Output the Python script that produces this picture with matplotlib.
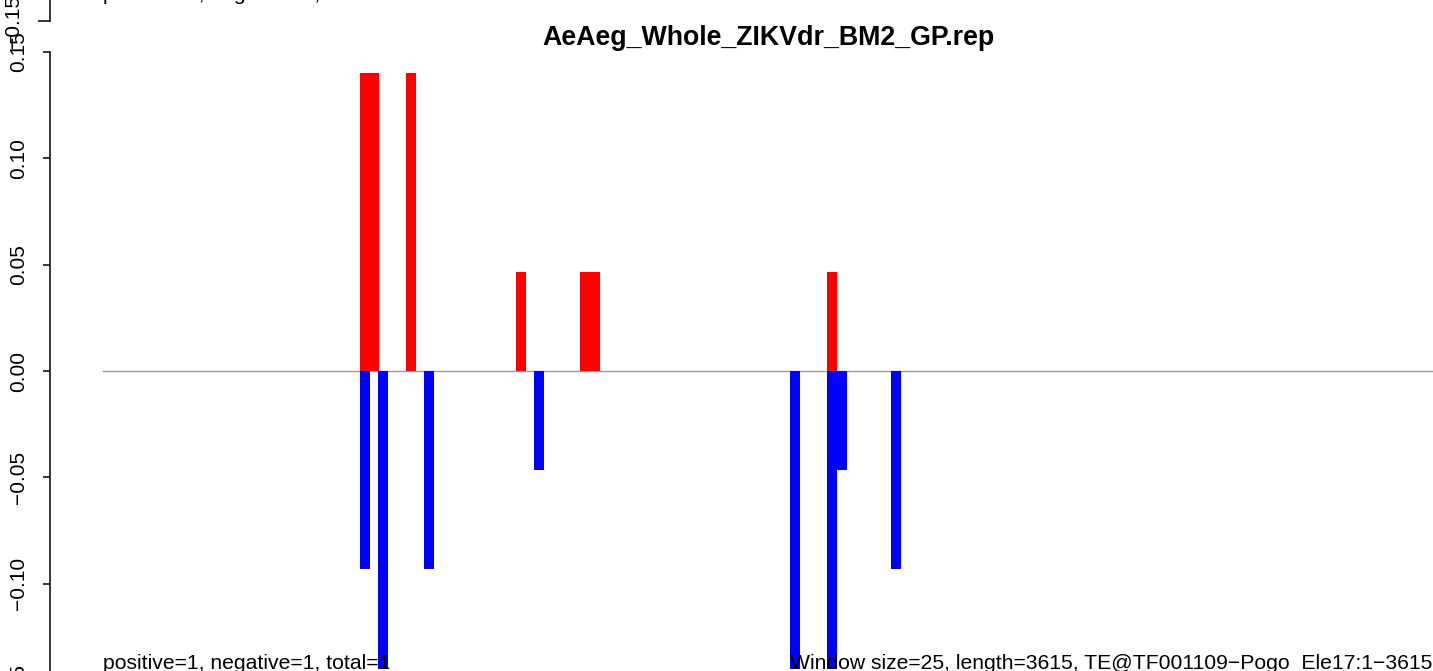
import matplotlib.pyplot as plt

plt.rcParams["font.family"] = ["Liberation Sans", "DejaVu Sans"]

# window positions (bp) and normalised read counts
pos_x = [698, 723, 823, 1122, 1296, 1324, 1968]
pos_y = [0.14, 0.14, 0.14, 0.0467, 0.0467, 0.0467, 0.0467]
neg_x = [698, 747, 872, 1171, 1867, 1968, 1995, 2142]
neg_y = [-0.0933, -0.14, -0.0933, -0.0467, -0.14, -0.14, -0.0467, -0.0933]

te_length = 3615
title = "AeAeg_Whole_ZIKVdr_BM2_GP.rep"
count_text = "positive=1, negative=1, total=1"
info_text = "Window size=25, length=3615, TE@TF001109\u2212Pogo_Ele17:1\u22123615"
yticks = [-0.15, -0.10, -0.05, 0.00, 0.05, 0.10, 0.15]
ytick_labels = ["\u22120.15", "\u22120.10", "\u22120.05", "0.00", "0.05", "0.10", "0.15"]

W, H = 1433, 671
fig = plt.figure(figsize=(W / 100, H / 100), dpi=100)

ymax = 0.14 * 1.08
xlo, xhi = -0.04 * te_length, te_length * 1.04
ax_w = (1486 - 50) / W
ax_h = (692.6 - 49.4) / H
ax_b = (H - 692.6) / H


def style_axes(ax, tick_len):
    ax.set_xlim(xlo, xhi)
    ax.set_ylim(-ymax, ymax)
    for s in ["top", "right", "bottom"]:
        ax.spines[s].set_visible(False)
    ax.spines["left"].set_bounds(-0.15, 0.15)
    ax.spines["left"].set_linewidth(1.1)
    ax.set_xticks([])
    ax.set_yticks(yticks)
    ax.set_yticklabels(ytick_labels)
    ax.tick_params(axis="y", length=tick_len, width=1.1, pad=11, labelsize=15)
    plt.setp(ax.get_yticklabels(), rotation=90, va="center", ha="right")
    ax.patch.set_alpha(0)


# previous panel (only its bottom edge is visible)
ax_prev = fig.add_axes([50 / W, ax_b + 669 / H, ax_w, ax_h])
style_axes(ax_prev, 8.6)
ax_prev.text(0, -0.14, count_text, fontsize=15.2, ha="left", va="baseline")

# main panel
ax = fig.add_axes([50 / W, ax_b, ax_w, ax_h])
style_axes(ax, 5)
ax.plot([0, te_length], [0, 0], color="#9a9a9a", lw=1, zorder=1)
ax.bar(pos_x, pos_y, width=27, align="edge", color="red", zorder=2)
ax.bar(neg_x, neg_y, width=27, align="edge", color="blue", zorder=2)
ax.text(0, -0.14, count_text, fontsize=15.2, ha="left", va="baseline", zorder=3)
ax.text(te_length, -0.14, info_text, fontsize=15.2, ha="right", va="baseline", zorder=3)

fig.text(768 / W, 1 - 38 / H, title, fontsize=19.3, fontweight="bold",
         ha="center", va="center")

fig.savefig("out.png", dpi=100)
